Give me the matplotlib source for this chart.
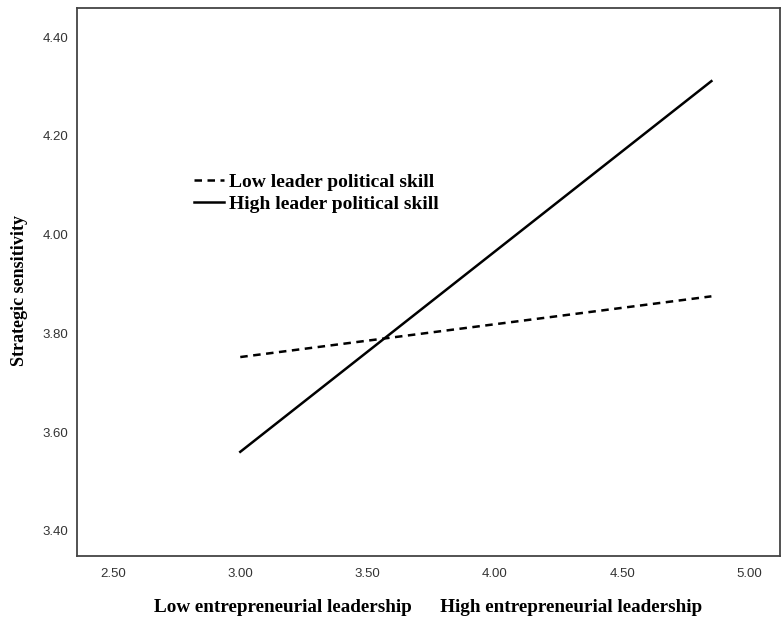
import matplotlib
matplotlib.use("Agg")
import matplotlib.pyplot as plt

# simple slopes: x = entrepreneurial leadership, y = strategic sensitivity
x_vals = [3.00, 4.85]
low_skill = [3.752, 3.875]
high_skill = [3.560, 4.311]

x_ticks = [2.50, 3.00, 3.50, 4.00, 4.50, 5.00]
y_ticks = [3.40, 3.60, 3.80, 4.00, 4.20, 4.40]

serif = "Liberation Serif"
sans = "Liberation Sans"

fig = plt.figure(figsize=(7.82, 6.19), dpi=100)
ax = fig.add_axes([0.0985, 0.1018, 0.8985, 0.8852])

ax.plot(x_vals, low_skill, color="black", lw=1.8, ls=(0, (3, 2.2)), label="Low leader political skill")
ax.plot(x_vals, high_skill, color="black", lw=1.8, ls="-", label="High leader political skill")

ax.set_xlim(2.359, 5.118)
ax.set_ylim(3.349, 4.459)
ax.set_xticks(x_ticks)
ax.set_yticks(y_ticks)
ax.set_xticklabels([f"{v:.2f}" for v in x_ticks], family=sans, fontsize=9.5, color="#333333")
ax.set_yticklabels([f"{v:.2f}" for v in y_ticks], family=sans, fontsize=9.5, color="#333333")
ax.tick_params(axis="x", length=0, pad=9)
ax.tick_params(axis="y", length=0, pad=6)

for sp in ax.spines.values():
    sp.set_color("#444444")
    sp.set_linewidth(1.3)

ax.set_ylabel("Strategic sensitivity", family=serif, fontweight="bold", fontsize=13)
ax.yaxis.set_label_coords(-0.07, 0.485)
ax.set_xlabel("Low entrepreneurial leadership      High entrepreneurial leadership",
              family=serif, fontweight="bold", fontsize=13.8, labelpad=13)

leg = ax.legend(loc="upper left", bbox_to_anchor=(0.155, 0.712), frameon=False,
                prop={"family": serif, "weight": "bold", "size": 14},
                handlelength=1.55, handletextpad=0.25, labelspacing=0.2, borderaxespad=0)

fig.savefig("out.png", dpi=100)
